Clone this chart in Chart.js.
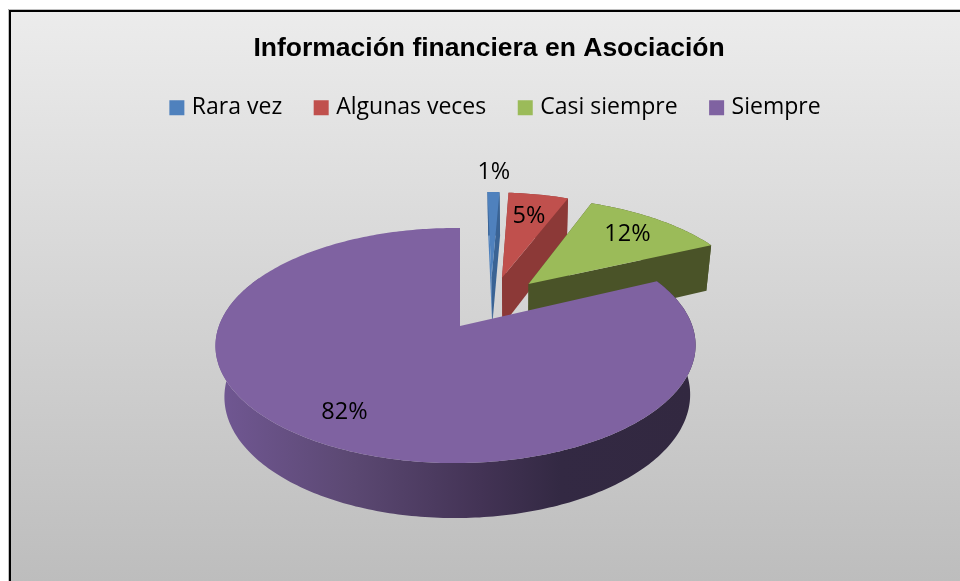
<!DOCTYPE html>
<html>
<head>
<meta charset="utf-8">
<style>html,body{margin:0;padding:0;background:#fff;overflow:hidden}canvas{display:block}</style>
<script src="https://cdn.jsdelivr.net/npm/chart.js@4/dist/chart.umd.min.js"></script>
</head>
<body>
<canvas id="c" width="960" height="581"></canvas>
<script>
const titleText = 'Información financiera en Asociación';
const categories = ['Rara vez', 'Algunas veces', 'Casi siempre', 'Siempre'];
const values = [1, 5, 12, 82];
const topColors = ['#4f81bd', '#c0504d', '#9bbb59', '#7f62a1'];
const wallColors = ['#3a6394', '#8c3937', '#4a5328', '#3e2f52'];
const startWallColors = ['#4f81bd', '#8c3937', '#4a5328', '#3e2f52'];
const labelFractions = [1.27, 0.71, 0.745, 0.79];
const rimWidths = [1, 1, 1, 0.984];

// view of the pie plane
const view = { x0: 460, y0: 326, a: 240.5, b: 114.3, p: 0.166, r: -0.0187, depthW: 0.03, depthH: 51.6, depthX: 1.5, explode: 0.25 };

function project(X, Y, bottom) {
  const w = 1 - view.p * Y - view.r * X + (bottom ? view.depthW : 0);
  return {
    x: view.x0 + view.a * X / w + (bottom ? view.depthX : 0),
    y: view.y0 + (view.b * Y + (bottom ? view.depthH : 0)) / w
  };
}

const pie3d = {
  id: 'pie3d',
  afterLayout(chart) {
    chart.legend.left += 16;
    chart.legend.top -= 4;
    chart.legend.bottom -= 4;
  },
  beforeDraw(chart) {
    const ctx = chart.ctx;
    const g = ctx.createLinearGradient(0, 11, 0, 581);
    g.addColorStop(0, '#ececec');
    g.addColorStop(1, '#bdbdbd');
    ctx.save();
    ctx.fillStyle = '#fff';
    ctx.fillRect(0, 0, 960, 581);
    ctx.fillStyle = 'rgba(150,150,150,0.6)';
    ctx.fillRect(8, 9, 952, 1);
    ctx.fillRect(8, 9, 1, 572);
    ctx.fillStyle = g;
    ctx.fillRect(10, 11, 950, 570);
    ctx.fillStyle = '#000';
    ctx.fillRect(9, 10, 951, 2);
    ctx.fillRect(9, 10, 2, 571);
    ctx.restore();
  },
  beforeDatasetsDraw(chart) {
    const ctx = chart.ctx;
    const meta = chart.getDatasetMeta(0);
    const mids = meta.data.map(e => (e.startAngle + e.endAngle) / 2);
    const last = mids.length - 1;
    const cx0 = -view.explode * Math.cos(mids[last]);
    const cy0 = -view.explode * Math.sin(mids[last]);
    const centre = i => ({
      X: cx0 + view.explode * Math.cos(mids[i]),
      Y: cy0 + view.explode * Math.sin(mids[i])
    });
    const rim = (i, ang, bottom) => {
      const c = centre(i);
      return project(c.X + rimWidths[i] * Math.cos(ang), c.Y + Math.sin(ang), bottom);
    };
    const poly = (pts, fill) => {
      ctx.beginPath();
      pts.forEach((p, k) => k ? ctx.lineTo(p.x, p.y) : ctx.moveTo(p.x, p.y));
      ctx.closePath();
      ctx.fillStyle = fill;
      ctx.fill();
    };
    meta.data.forEach((el, i) => {
      const c = centre(i);
      const apexT = project(c.X, c.Y, false);
      const apexB = project(c.X, c.Y, true);
      const s = el.startAngle, e = el.endAngle;
      const n = Math.max(4, Math.ceil((e - s) * 60));
      const topPts = [], botPts = [], wallTop = [], wallBot = [];
      for (let k = 0; k <= n; k++) {
        const a = s + (e - s) * k / n;
        const t = rim(i, a, false), b = rim(i, a, true);
        topPts.push(t);
        botPts.push(b);
        if (i !== last || Math.sin(a) > -0.45) {
          wallTop.push(t);
          wallBot.push(b);
        }
      }
      let wallFill = wallColors[i];
      if (i === last) {
        const g = ctx.createLinearGradient(222, 0, 692, 0);
        g.addColorStop(0, '#705792');
        g.addColorStop(0.28, '#5b4872');
        g.addColorStop(0.55, '#433355');
        g.addColorStop(0.72, '#332943');
        g.addColorStop(1, '#322840');
        wallFill = g;
      } else {
        poly([apexT, topPts[0], botPts[0], apexB], startWallColors[i]);
      }
      poly(wallTop.concat(wallBot.slice().reverse()), wallFill);
      if (i !== last) poly([apexT, topPts[n], botPts[n], apexB], wallFill);
      poly([apexT].concat(topPts), topColors[i]);
    });
    const total = values.reduce((a, b) => a + b, 0);
    ctx.save();
    ctx.fillStyle = '#000';
    ctx.font = '23.5px "Open Sans"';
    ctx.textAlign = 'center';
    ctx.textBaseline = 'middle';
    meta.data.forEach((el, i) => {
      const c = centre(i);
      const f = labelFractions[i];
      const p = project(c.X + f * Math.cos(mids[i]), c.Y + f * Math.sin(mids[i]), false);
      ctx.fillText(Math.round(values[i] / total * 100) + '%', p.x, p.y);
    });
    ctx.restore();
    return false;
  }
};

new Chart(document.getElementById('c'), {
  type: 'pie',
  data: {
    labels: categories,
    datasets: [{ data: values, backgroundColor: topColors, borderWidth: 0 }]
  },
  options: {
    responsive: false,
    animation: false,
    layout: { padding: { left: 18, right: 0, top: 33, bottom: 0 } },
    plugins: {
      tooltip: { enabled: false },
      title: {
        display: true,
        text: titleText,
        color: '#000',
        font: { family: '"Liberation Sans"', size: 26.5, weight: 'bold' },
        padding: { top: 0, bottom: 0 }
      },
      legend: {
        position: 'top',
        labels: {
          boxWidth: 7,
          boxHeight: 7,
          padding: 35.5,
          color: '#000',
          font: { family: '"Open Sans"', size: 23 },
          generateLabels(chart) {
            return Chart.overrides.pie.plugins.legend.labels.generateLabels(chart).map(item => {
              item.strokeStyle = item.fillStyle;
              item.lineWidth = 8;
              return item;
            });
          }
        }
      }
    }
  },
  plugins: [pie3d]
});
</script>
</body>
</html>
